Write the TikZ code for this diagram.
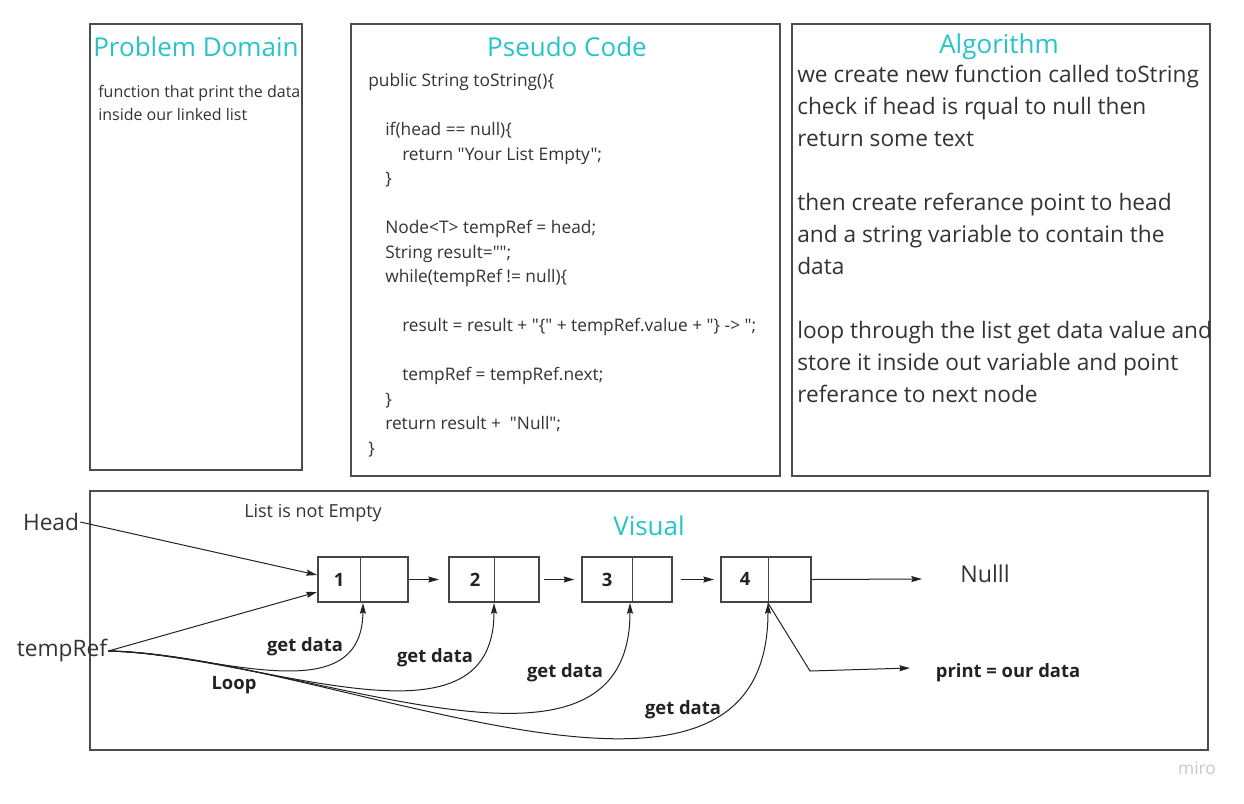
\documentclass[tikz,border=0pt]{standalone}
\usepackage{fontspec}
\setmainfont{Open Sans}
\newfontfamily\codefont{Open Sans}
\usetikzlibrary{arrows.meta,calc}

\begin{document}
\begin{tikzpicture}[x=0.75pt,y=0.75pt,yscale=-1,xscale=1,
  panel/.style={draw={rgb, 255:red, 77; green, 77; blue, 77}, line width=1.5},
  title/.style={font=\fontsize{19.5}{23}\selectfont, color={rgb, 255:red, 38; green, 196; blue, 200}},
  body/.style={anchor=north west, inner sep=0pt, align=left, color={rgb, 255:red, 51; green, 51; blue, 51}},
  plain/.style={inner sep=0.75pt, color={rgb, 255:red, 51; green, 51; blue, 51}},
  cell/.style={draw={rgb, 255:red, 68; green, 68; blue, 68}, line width=1.5, minimum width=67.5pt, minimum height=33.75pt, inner sep=0pt},
  bold/.style={inner sep=0.75pt, font=\bfseries\fontsize{13.8}{16}\selectfont, color={rgb, 255:red, 34; green, 34; blue, 34}},
  conn/.style={draw={rgb, 255:red, 34; green, 34; blue, 34}, line width=0.75, -{Stealth[length=8pt,width=4.5pt,inset=1pt]}},
  divider/.style={draw={rgb, 255:red, 68; green, 68; blue, 68}, line width=0.75}
]
\useasboundingbox (0,0) rectangle (1244,803);

%Panels
\draw [panel] (90,24) rectangle (302,470) ;
\draw [panel] (351,24) rectangle (780,476) ;
\draw [panel] (792,24) rectangle (1210,476) ;
\draw [panel] (90,491) rectangle (1208,750) ;

% Titles
\node [title] (pdtitle) at (196,47) {Problem Domain};
\node [title] (pctitle) at (567,47) {Pseudo Code};
\node [title] (altitle) at (999,47) {Algorithm};
\node [title] (vistitle) at (649,526) {Visual};

% Text Node
\node [body, font=\fontsize{12}{17.25}\selectfont] (pdtext) at (98,85) {function that print the data\\inside our linked list};
% Text Node
\node [body, font=\codefont\fontsize{13}{18.4}\selectfont] (pctext) at (368,73) {public String toString()\{\\[18.4pt]
\hspace*{12.75pt}if(head == null)\{\\
\hspace*{25.5pt}return "Your List Empty";\\
\hspace*{12.75pt}\}\\[18.4pt]
\hspace*{12.75pt}Node<T> tempRef = head;\\
\hspace*{12.75pt}String result="";\\
\hspace*{12.75pt}while(tempRef != null)\{\\[18.4pt]
\hspace*{25.5pt}result = result + "\{" + tempRef.value + "\} -> ";\\[18.4pt]
\hspace*{25.5pt}tempRef = tempRef.next;\\
\hspace*{12.75pt}\}\\
\hspace*{12.75pt}return result +~ "Null";\\
\}};
% Text Node
\node [body, font=\fontsize{17}{24}\selectfont] (altext) at (797,65) {we create new function called toString\\check if head is rqual to null then\\return some text\\[24pt]
then create referance point to head\\and a string variable to contain the\\data\\[24pt]
loop through the list get data value and\\store it inside out variable and point\\referance to next node};

% Visual
\node [plain, font=\fontsize{13.5}{16}\selectfont] (cond) at (313,513) {List is not Empty};
\node [plain, font=\fontsize{17}{20}\selectfont] (head) at (51,522) {Head};
\node [plain, font=\fontsize{17}{20}\selectfont] (tempref) at (62,651) {tempRef};

\node [cell] (n1) at (363,579.5) {};
\node [cell] (n2) at (494,579.5) {};
\node [cell] (n3) at (627,579.5) {};
\node [cell] (n4) at (766,579.5) {};
\draw [divider] ($(n1.north)+(-3,0)$) -- ($(n1.south)+(-3,0)$) ;
\draw [divider] (n2.north) -- (n2.south) ;
\draw [divider] ($(n3.north)+(5,0)$) -- ($(n3.south)+(5,0)$) ;
\draw [divider] ($(n4.north)+(2,0)$) -- ($(n4.south)+(2,0)$) ;
\node [bold] (v1) at (339,580) {1};
\node [bold] (v2) at (475,580) {2};
\node [bold] (v3) at (607,580) {3};
\node [bold] (v4) at (745,579) {4};

\node [plain, font=\fontsize{17.4}{20}\selectfont] (nul) at (985,574) {Nulll};
\node [bold] (prt) at (1008,673) {print = our data};
\node [bold] (loop) at (234,685) {Loop};
\node [bold] (gd1) at (305,647) {get data};
\node [bold] (gd2) at (435,658) {get data};
\node [bold] (gd3) at (565,673) {get data};
\node [bold] (gd4) at (683,710) {get data};
\node [inner sep=0pt, font=\fontsize{13}{15}\selectfont, color={rgb, 255:red, 200; green, 200; blue, 200}] (miro) at (1197,768) {miro};

\coordinate (nulend) at (922,579);
\coordinate (bend) at (810,671);
\coordinate (prtend) at (910,668);

%Straight Lines
\draw [conn] (head.east) -- ($(n1.west)+(0,-4.5)$) ;
\draw [conn] (tempref.east) -- ($(n1.west)+(0,12.5)$) ;
\draw [conn, shorten >=6.75pt] (n1.east) -- (n2.west) ;
\draw [conn, shorten <=3pt, shorten >=5pt] (n2.east) -- (n3.west) ;
\draw [conn, shorten <=6pt, shorten >=4.5pt] (n3.east) -- (n4.west) ;
\draw [conn] (n4.east) -- (nulend) ;
\draw [conn] ($(n4.south)+(2,0)$) -- (bend) -- (prtend) ;

%Curve Lines
\draw [conn] (tempref.east) .. controls (210,652) and (362,715) .. (n1.south) ;
\draw [conn] (tempref.east) .. controls (260,655) and (494,760) .. (n2.south) ;
\draw [conn] (tempref.east) .. controls (300,655) and (630,812) .. ($(n3.south)+(3,0)$) ;
\draw [conn] (tempref.east) .. controls (330,655) and (768,870) .. ($(n4.south)+(2,0)$) ;

\end{tikzpicture}
\end{document}
